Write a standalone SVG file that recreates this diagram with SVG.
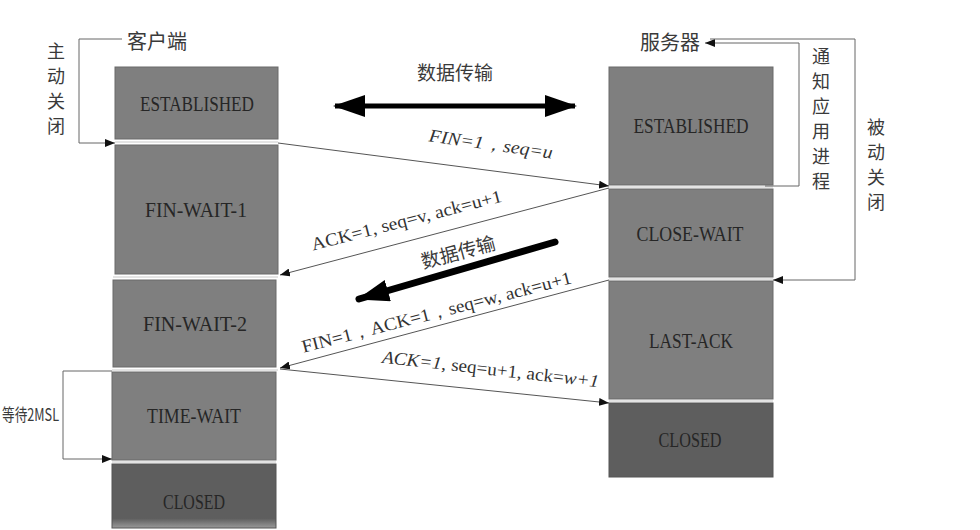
<svg xmlns="http://www.w3.org/2000/svg" width="980" height="530" viewBox="0 0 980 530">
<style>
.box{fill:#7f7f7f;stroke:#6a6a6a;stroke-width:1}
.dark{fill:#5e5e5e;stroke:#555;stroke-width:1}
.st{font-family:"Liberation Serif",serif;font-size:21px;fill:#262626;text-anchor:middle}
.cn{font-family:"Noto Sans CJK SC",sans-serif;fill:#3a3a3a}
.lbl{font-family:"Liberation Serif",serif;font-size:18px;fill:#333;text-anchor:middle}
.ln{fill:none;stroke:#555;stroke-width:1}
.br{fill:none;stroke:#666;stroke-width:1}
.sep{stroke:#c8c8c8;stroke-width:1}
</style>
<defs>
<marker id="ah" viewBox="0 0 10 8" refX="10" refY="4" markerWidth="10" markerHeight="8" markerUnits="userSpaceOnUse" orient="auto">
<path d="M0,0 L10,4 L0,8 Z" fill="#111"/>
</marker>
<marker id="big" viewBox="0 0 32 22" refX="30" refY="11" markerWidth="32" markerHeight="22" markerUnits="userSpaceOnUse" orient="auto">
<path d="M0,0 L32,11 L0,22 Z" fill="#000"/>
</marker>
<marker id="bigs" viewBox="0 0 32 22" refX="2" refY="11" markerWidth="32" markerHeight="22" markerUnits="userSpaceOnUse" orient="auto">
<path d="M32,0 L0,11 L32,22 Z" fill="#000"/>
</marker>
<linearGradient id="fade" x1="0" y1="0" x2="0" y2="1">
<stop offset="0.85" stop-color="#5e5e5e"/>
<stop offset="1" stop-color="#9a9a9a"/>
</linearGradient>
</defs>
<rect width="980" height="530" fill="#fff"/>

<g id="client-label">
<text class="cn" x="127" y="49" font-size="20">客户端</text>
<text class="cn" font-size="18" text-anchor="middle"><tspan x="56" y="58">主</tspan><tspan x="56" y="83">动</tspan><tspan x="56" y="108">关</tspan><tspan x="56" y="133">闭</tspan></text>
</g>
<g id="server-label">
<text class="cn" x="640" y="50" font-size="20">服务器</text>
<text class="cn" font-size="18" text-anchor="middle"><tspan x="821" y="63">通</tspan><tspan x="821" y="88">知</tspan><tspan x="821" y="113">应</tspan><tspan x="821" y="138">用</tspan><tspan x="821" y="163">进</tspan><tspan x="821" y="188">程</tspan></text>
<text class="cn" font-size="18" text-anchor="middle"><tspan x="876" y="134">被</tspan><tspan x="876" y="159">动</tspan><tspan x="876" y="184">关</tspan><tspan x="876" y="209">闭</tspan></text>
</g>
<g id="wait-label">
<text class="cn" x="2" y="421" font-size="17" textLength="57" lengthAdjust="spacingAndGlyphs">等待2MSL</text>
</g>

<g id="c-established"><rect class="box" x="115" y="67" width="163" height="72"/><text class="st" x="197" y="111" textLength="114" lengthAdjust="spacingAndGlyphs">ESTABLISHED</text></g>
<g id="c-finwait1"><rect class="box" x="115" y="145" width="163" height="129"/><text class="st" x="196" y="217" textLength="102" lengthAdjust="spacingAndGlyphs">FIN-WAIT-1</text></g>
<g id="c-finwait2"><rect class="box" x="113" y="280" width="163" height="87"/><text class="st" x="195" y="331" textLength="104" lengthAdjust="spacingAndGlyphs">FIN-WAIT-2</text></g>
<g id="c-timewait"><rect class="box" x="112" y="372" width="164" height="88"/><text class="st" x="194" y="423" textLength="94" lengthAdjust="spacingAndGlyphs">TIME-WAIT</text></g>
<g id="c-closed"><rect x="112" y="464" width="164" height="64" fill="url(#fade)" stroke="#555" stroke-width="1"/><text class="st" x="194" y="509" textLength="62" lengthAdjust="spacingAndGlyphs">CLOSED</text></g>

<g id="s-established"><rect class="box" x="609" y="67" width="164" height="118"/><text class="st" x="691" y="133" textLength="115" lengthAdjust="spacingAndGlyphs">ESTABLISHED</text></g>
<g id="s-closewait"><rect class="box" x="609" y="189" width="164" height="88"/><text class="st" x="690" y="241" textLength="107" lengthAdjust="spacingAndGlyphs">CLOSE-WAIT</text></g>
<g id="s-lastack"><rect class="box" x="609" y="281" width="164" height="118"/><text class="st" x="691" y="348" textLength="84" lengthAdjust="spacingAndGlyphs">LAST-ACK</text></g>
<g id="s-closed"><rect class="dark" x="609" y="403" width="164" height="74"/><text class="st" x="690" y="447" textLength="63" lengthAdjust="spacingAndGlyphs">CLOSED</text></g>

<g id="connectors">
<line class="sep" x1="115" y1="142" x2="278" y2="142"/>
<line class="sep" x1="609" y1="187" x2="773" y2="187"/>
<line class="sep" x1="609" y1="279" x2="773" y2="279"/>
<line class="sep" x1="609" y1="401" x2="773" y2="401"/>
<line class="sep" x1="113" y1="277" x2="278" y2="277"/>
<line class="sep" x1="112" y1="370" x2="278" y2="370"/>
<line class="sep" x1="112" y1="462" x2="276" y2="462"/>

<path class="br" d="M122,39 L79,39 L79,143 L115,143" marker-end="url(#ah)"/>
<path class="br" d="M112,371 L63,371 L63,459 L112,459" marker-end="url(#ah)"/>
<path class="br" d="M765,186 L799,186 L799,43 L705,43" marker-end="url(#ah)"/>
<path class="br" d="M710,39 L855,39 L855,280 L773,280" marker-end="url(#ah)"/>

<line class="ln" x1="278" y1="143" x2="609" y2="186" marker-end="url(#ah)"/>
<line class="ln" x1="609" y1="188" x2="280" y2="275" marker-end="url(#ah)"/>
<line class="ln" x1="609" y1="280" x2="280" y2="368" marker-end="url(#ah)"/>
<line class="ln" x1="280" y1="369" x2="609" y2="403" marker-end="url(#ah)"/>

<line x1="335" y1="106" x2="575" y2="106" stroke="#000" stroke-width="5" marker-start="url(#bigs)" marker-end="url(#big)"/>
<line x1="555" y1="242" x2="359" y2="299" stroke="#000" stroke-width="7" stroke-linecap="round" marker-end="url(#big)"/>
</g>

<g id="labels">
<text class="cn" x="455" y="80" font-size="19" text-anchor="middle">数据传输</text>
<text class="cn" font-size="19" text-anchor="middle" transform="translate(460,259) rotate(-15)">数据传输</text>
<text class="lbl" font-style="italic" transform="translate(490,150) rotate(8)" textLength="125" lengthAdjust="spacingAndGlyphs">FIN=1，seq=u</text>
<text class="lbl" transform="translate(408,226) rotate(-14.5)" textLength="196" lengthAdjust="spacingAndGlyphs">ACK=1, seq=v, ack=u+1</text>
<text class="lbl" transform="translate(438,318) rotate(-14.5)" textLength="278" lengthAdjust="spacingAndGlyphs">FIN=1，ACK=1，seq=w, ack=u+1</text>
<text class="lbl" transform="translate(490,375) rotate(6.5)" textLength="218" lengthAdjust="spacingAndGlyphs"><tspan font-style="italic">ACK=1</tspan>, seq=u+1, ack=<tspan font-style="italic">w+1</tspan></text>
</g>
</svg>
